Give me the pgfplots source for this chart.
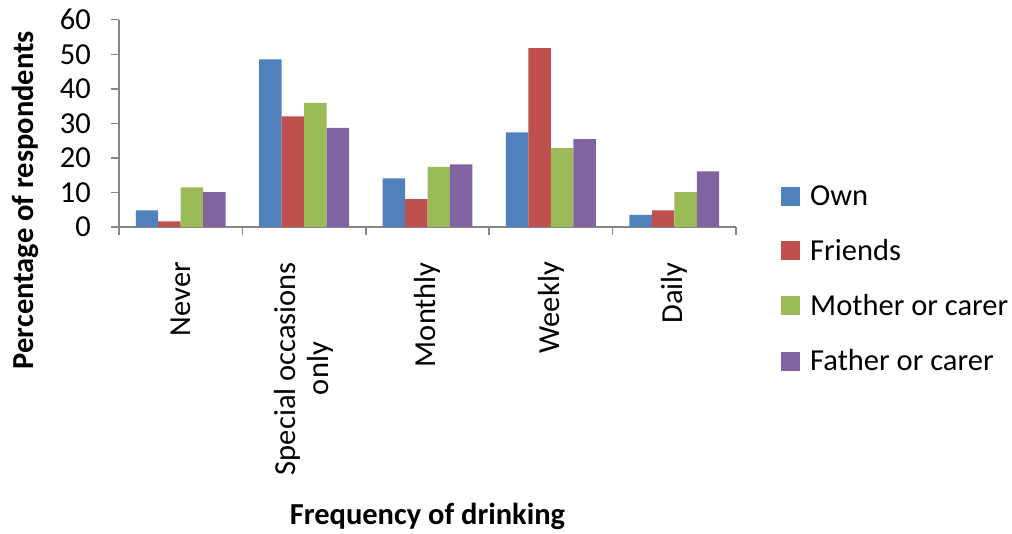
\documentclass[border=0pt]{standalone}
\usepackage{fontspec}
\setmainfont{Carlito}
\usepackage{pgfplots}
\pgfplotsset{compat=1.18}
\definecolor{cown}{HTML}{4F81BD}
\definecolor{cfri}{HTML}{C0504D}
\definecolor{cmot}{HTML}{9BBB59}
\definecolor{cfat}{HTML}{8064A2}
\definecolor{axgray}{HTML}{868686}
\begin{document}
\begin{tikzpicture}
\useasboundingbox (-119pt,-307pt) rectangle (893pt,227pt);
\begin{axis}[
  at={(0,0)}, anchor=south west,
  scale only axis,
  width=617pt, height=207.3pt,
  xmin=-0.5, xmax=4.5,
  ymin=0, ymax=60,
  ytick={0,10,...,60},
  xtick={0,1,2,3,4},
  xticklabels={Never,{Special occasions\\only},Monthly,Weekly,Daily},
  minor xtick={-0.5,0.5,...,4.5},
  axis lines=left,
  axis line style={-, axgray, line width=1.5pt},
  every tick/.style={axgray, line width=1.5pt},
  tick align=outside,
  major tick length=8pt,
  minor tick length=8pt,
  x tick style={draw=none},
  minor x tick style={draw=axgray, line width=1.5pt},
  tick label style={font=\fontsize{30.5}{33}\selectfont, text=black},
  /pgf/number format/assume math mode=true,
  yticklabel style={inner sep=0pt, xshift=-20pt},
  xticklabel style={rotate=90, anchor=east, align=center, inner sep=0pt, xshift=-27pt},
  ylabel={\textbf{Percentage of respondents}},
  ylabel style={font=\fontsize{30.5}{34}\selectfont, at={(axis description cs:-0.151,0.13)}, anchor=center, rotate=0},
  xlabel={\textbf{Frequency of drinking}},
  xlabel style={font=\fontsize{30.5}{34}\selectfont, at={(axis description cs:0.5,-1.395)}, anchor=center},
  ybar, bar width=0.182,
  legend style={at={(axis description cs:1.073,0.21)}, anchor=north west, draw=none, fill=none,
    font=\fontsize{30.5}{34}\selectfont, row sep=28.5pt, inner sep=0pt},
  legend cell align=left,
  legend image code/.code={\path[#1,draw=none] (0pt,-9.5pt) rectangle (19pt,9.5pt); \path (27pt,0pt);},
]
\addplot[fill=cown, draw=none, bar shift=-0.273] coordinates {(0,4.8) (1,48.5) (2,14.1) (3,27.4) (4,3.5)};
\addplot[fill=cfri, draw=none, bar shift=-0.091] coordinates {(0,1.6) (1,32.0) (2,8.1) (3,51.8) (4,4.8)};
\addplot[fill=cmot, draw=none, bar shift=0.091] coordinates {(0,11.5) (1,35.9) (2,17.4) (3,22.8) (4,10.1)};
\addplot[fill=cfat, draw=none, bar shift=0.273] coordinates {(0,10.1) (1,28.7) (2,18.1) (3,25.4) (4,16.1)};
\legend{Own,Friends,Mother or carer,Father or carer}
\end{axis}
\end{tikzpicture}
\end{document}
